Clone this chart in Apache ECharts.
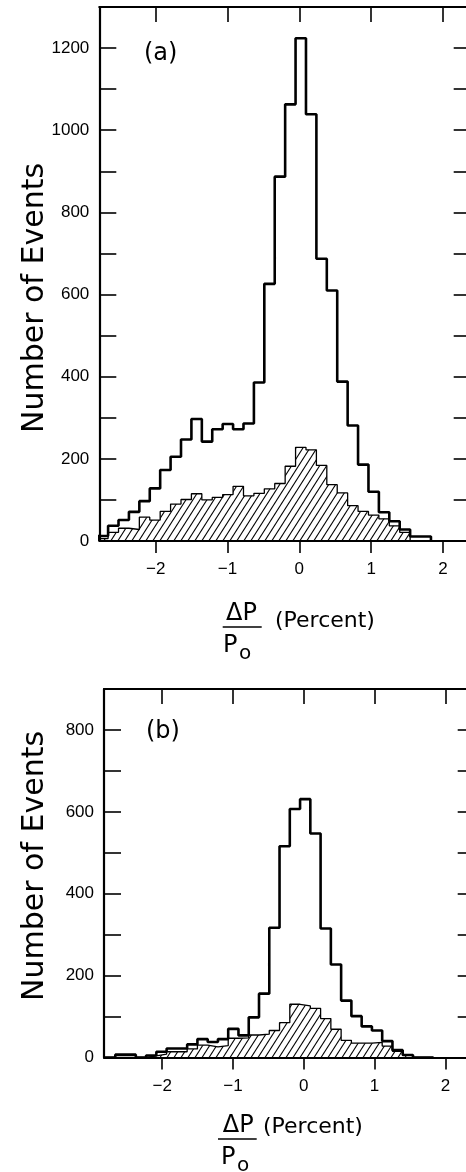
<!DOCTYPE html>
<html>
<head>
<meta charset="utf-8">
<script src="https://cdn.jsdelivr.net/npm/echarts@6/dist/echarts.min.js"></script>
<style>
html,body{margin:0;padding:0;background:#fff;}
#chart{width:466px;height:1172px;}
</style>
</head>
<body>
<div id="chart"></div>
<script>
// ---- data ----
const binCenters = [-2.735, -2.59, -2.445, -2.3, -2.155, -2.01, -1.865, -1.72, -1.575, -1.43,
  -1.285, -1.14, -0.995, -0.85, -0.705, -0.56, -0.415, -0.27, -0.125, 0.02,
  0.165, 0.31, 0.455, 0.6, 0.745, 0.89, 1.035, 1.18, 1.325, 1.47, 1.615, 1.76];
const binWidth = 0.145;

const countsAllA = [12, 37, 51, 71, 97, 128, 173, 205, 247, 297,
  242, 272, 285, 272, 286, 386, 626, 887, 1063, 1224,
  1039, 687, 610, 388, 281, 186, 120, 70, 48, 28, 11, 11];
const countsHatchA = [6, 21, 31, 28, 58, 51, 72, 90, 101, 115,
  100, 106, 113, 133, 110, 116, 127, 140, 182, 228,
  222, 184, 137, 117, 86, 72, 63, 54, 37, 21, 0, 0];

const countsAllB = [0, 7, 7, 0, 5, 14, 22, 22, 32, 45,
  38, 45, 70, 54, 98, 156, 317, 516, 607, 631,
  547, 315, 227, 139, 101, 76, 66, 40, 18, 6, 0, 0];
const countsHatchB = [0, 0, 0, 0, 4, 8, 14, 14, 21, 30,
  26, 29, 47, 48, 55, 57, 66, 85, 130, 126,
  120, 95, 69, 42, 35, 35, 37, 28, 15, 5, 0, 0];

const xTickValues = [-2, -1, 0, 1, 2];
const xTickLabels = ['\u22122', '\u22121', '0', '1', '2'];
const yTickLabelsA = [0, 200, 400, 600, 800, 1000, 1200];
const yTickLabelsB = [0, 200, 400, 600, 800];

// ---- helpers ----
const NUMFONT = 'Liberation Sans';
const FONT = 'DejaVu Sans';
function stepPoints(centers, values, w) {
  const pts = [[centers[0] - w / 2, 0]];
  for (let i = 0; i < centers.length; i++) {
    pts.push([centers[i] - w / 2, values[i]]);
    pts.push([centers[i] + w / 2, values[i]]);
  }
  pts.push([centers[centers.length - 1] + w / 2, 0]);
  return pts;
}
function hatchCanvas() {
  const c = document.createElement('canvas');
  c.width = 7; c.height = 11;
  const g = c.getContext('2d');
  g.strokeStyle = '#000';
  g.lineWidth = 1.1;
  for (const dx of [-7, 0, 7]) {
    g.beginPath();
    g.moveTo(dx - 7, 22);
    g.lineTo(dx + 14, -11);
    g.stroke();
  }
  return c;
}
const hatch = { image: hatchCanvas(), repeat: 'repeat' };
const xFmt = v => { const i = xTickValues.indexOf(v); return i >= 0 ? xTickLabels[i] : ''; };
const yFmt = v => String(v);

function xAxes(grid, min, max) {
  return [
    { gridIndex: grid, type: 'value', position: 'bottom', min: min, max: max,
      axisLine: { show: true, onZero: false, lineStyle: { color: '#000', width: 2.2 } },
      axisTick: { show: true, inside: false, length: 12, customValues: xTickValues, lineStyle: { color: '#000', width: 1.6 } },
      axisLabel: { show: true, customValues: xTickValues, formatter: xFmt, margin: 20, color: '#000', fontSize: 17, fontFamily: NUMFONT },
      splitLine: { show: false } },
    { gridIndex: grid, type: 'value', position: 'top', min: min, max: max,
      axisLine: { show: true, onZero: false, lineStyle: { color: '#000', width: 2.2 } },
      axisTick: { show: true, inside: true, length: 15, customValues: xTickValues, lineStyle: { color: '#000', width: 1.6 } },
      axisLabel: { show: false }, splitLine: { show: false } }
  ];
}
function yAxes(grid, max, labels) {
  return [
    { gridIndex: grid, type: 'value', position: 'left', min: 0, max: max, interval: 100,
      axisLine: { show: true, onZero: false, lineStyle: { color: '#000', width: 2.2 } },
      axisTick: { show: true, inside: true, length: 17, lineStyle: { color: '#000', width: 1.6 } },
      axisLabel: { show: true, customValues: labels, formatter: yFmt, margin: 10, color: '#000', fontSize: 17, fontFamily: NUMFONT },
      splitLine: { show: false } },
    { gridIndex: grid, type: 'value', position: 'right', min: 0, max: max, interval: 100,
      axisLine: { show: true, onZero: false, lineStyle: { color: '#000', width: 2.2 } },
      axisTick: { show: true, inside: true, length: 15, lineStyle: { color: '#000', width: 1.6 } },
      axisLabel: { show: false }, splitLine: { show: false } }
  ];
}
function txt(text, x, y, size, align, rot) {
  return { type: 'text', x: x, y: y, rotation: rot || 0,
    style: { text: text, fill: '#000', fontSize: size, fontFamily: FONT, align: align || 'left', verticalAlign: 'middle' } };
}
function fracTitle(cx, lineY, lineX0, lineX1, pX, pctX, pctY) {
  return [
    txt('\u0394P', cx, lineY - 13, 24, 'center'),
    { type: 'line', shape: { x1: lineX0, y1: lineY, x2: lineX1, y2: lineY }, style: { stroke: '#000', lineWidth: 1.6 } },
    txt('P', pX, lineY + 19, 24, 'left'),
    txt('o', pX + 16, lineY + 27, 20, 'left'),
    txt('(Percent)', pctX, pctY, 22, 'left')
  ];
}

const chart = echarts.init(document.getElementById('chart'), null, { renderer: 'canvas' });
chart.setOption({
  animation: false,
  backgroundColor: '#fff',
  grid: [
    { left: 99.3, top: 7, width: 369.4, height: 534, containLabel: false, outerBoundsMode: 'none' },
    { left: 104, top: 689, width: 368.7, height: 368.5, containLabel: false, outerBoundsMode: 'none' }
  ],
  xAxis: [].concat(xAxes(0, -2.785, 2.358), xAxes(1, -2.822, 2.386)),
  yAxis: [].concat(yAxes(0, 1300, yTickLabelsA), yAxes(1, 900, yTickLabelsB)),
  series: [
    { type: 'line', xAxisIndex: 0, yAxisIndex: 0, data: stepPoints(binCenters, countsHatchA, binWidth),
      symbol: 'none', silent: true, lineStyle: { color: '#000', width: 1.3 }, areaStyle: { color: hatch, opacity: 1 } },
    { type: 'line', xAxisIndex: 0, yAxisIndex: 0, data: stepPoints(binCenters, countsAllA, binWidth),
      symbol: 'none', silent: true, lineStyle: { color: '#000', width: 2.6 } },
    { type: 'line', xAxisIndex: 2, yAxisIndex: 2, data: stepPoints(binCenters, countsHatchB, binWidth),
      symbol: 'none', silent: true, lineStyle: { color: '#000', width: 1.3 }, areaStyle: { color: hatch, opacity: 1 } },
    { type: 'line', xAxisIndex: 2, yAxisIndex: 2, data: stepPoints(binCenters, countsAllB, binWidth),
      symbol: 'none', silent: true, lineStyle: { color: '#000', width: 2.6 } }
  ],
  graphic: [].concat(
    [txt('(a)', 144, 54, 24, 'left'), txt('(b)', 146, 732, 24, 'left'),
     txt('Number of Events', 35, 298, 30, 'center', Math.PI / 2),
     txt('Number of Events', 35, 866, 30, 'center', Math.PI / 2)],
    fracTitle(241.5, 627, 222.7, 261.7, 223, 275, 621),
    fracTitle(238.3, 1139, 218, 256.7, 221, 263, 1127)
  )
});
</script>
</body>
</html>
